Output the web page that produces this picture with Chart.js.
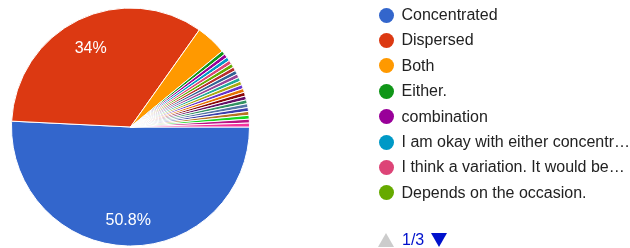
<!DOCTYPE html>
<html><head><meta charset="utf-8">
<script src="https://cdn.jsdelivr.net/npm/chart.js@4/dist/chart.umd.min.js"></script>
<style>
html,body{margin:0;padding:0;background:#fff;width:630px;height:248px;overflow:hidden;font-family:"Liberation Sans",Arial,sans-serif;}
#wrap{position:relative;width:630px;height:248px;overflow:hidden;}
#c{position:absolute;left:0;top:0;}
#legend{position:absolute;left:379px;top:0;width:251px;height:248px;}
.item{position:absolute;left:0;height:20px;width:251px;}
.dot{position:absolute;left:0;top:2.5px;width:15px;height:15px;border-radius:50%;}
.txt{position:absolute;left:22.5px;top:0;white-space:nowrap;font-size:16px;color:#222;line-height:20px;}
#pager{position:absolute;left:0;top:230px;height:20px;width:120px;}
#pager svg{position:absolute;top:3px;}
#pageTxt{position:absolute;left:23px;top:0;font-size:16px;line-height:20px;color:#0011cc;}
</style>
</head><body>
<div id="wrap">
<canvas id="c" width="630" height="248"></canvas>
<div id="legend"></div>
</div>
<script>
const categories = [
  "Concentrated", "Dispersed", "Both", "Either.", "combination",
  "I am okay with either concentr…", "I think a variation. It would be…", "Depends on the occasion.",
  "Response 9", "Response 10", "Response 11", "Response 12", "Response 13", "Response 14",
  "Response 15", "Response 16", "Response 17", "Response 18", "Response 19", "Response 20",
  "Response 21", "Response 22", "Response 23", "Response 24"
];
const responses = [97, 65, 8, 1, 1, 1, 1, 1, 1, 1, 1, 1, 1, 1, 1, 1, 1, 1, 1, 1, 1, 1, 1, 1];
const palette = [
  "#3366cc", "#dc3912", "#ff9900", "#109618", "#990099", "#0099c6", "#dd4477", "#66aa00",
  "#b82e2e", "#316395", "#994499", "#22aa99", "#aaaa11", "#6633cc", "#e67300", "#8b0707",
  "#651067", "#329262", "#5574a6", "#3b3eac", "#b77322", "#16d620", "#b91383", "#f4359e"
];
const legendPage = 1;
const legendPages = 3;
const perPage = 8;

const total = responses.reduce((a, b) => a + b, 0);

const pctLabels = {
  id: 'pctLabels',
  afterDatasetsDraw(chart) {
    const ctx = chart.ctx;
    const meta = chart.getDatasetMeta(0);
    ctx.save();
    ctx.font = '16px "Liberation Sans", Arial, sans-serif';
    ctx.fillStyle = '#ffffff';
    ctx.textAlign = 'center';
    ctx.textBaseline = 'middle';
    meta.data.forEach((arc, i) => {
      const p = responses[i] / total * 100;
      if (p < 5) return;
      const mid = (arc.startAngle + arc.endAngle) / 2;
      const r = arc.outerRadius * 0.765;
      const x = arc.x + Math.cos(mid) * r;
      const y = arc.y + Math.sin(mid) * r + 3;
      ctx.fillText((Math.round(p * 10) / 10) + '%', x, y);
    });
    ctx.restore();
  }
};

const chart = new Chart(document.getElementById('c'), {
  type: 'pie',
  data: {
    labels: categories,
    datasets: [{
      data: responses,
      backgroundColor: palette,
      borderColor: '#ffffff',
      borderWidth: 1
    }]
  },
  options: {
    responsive: false,
    devicePixelRatio: 1,
    animation: false,
    rotation: 90,
    layout: { padding: { left: 11, top: 7, right: 380, bottom: 1 } },
    plugins: { legend: { display: false }, tooltip: { enabled: false } }
  },
  plugins: [pctLabels]
});

// HTML legend built from chart data (first page)
const legend = document.getElementById('legend');
const start = (legendPage - 1) * perPage;
chart.data.labels.slice(start, start + perPage).forEach((lab, k) => {
  const i = start + k;
  const item = document.createElement('div');
  item.className = 'item';
  item.style.top = (15 + k * 25.4 - 10) + 'px';
  const dot = document.createElement('div');
  dot.className = 'dot';
  dot.style.background = chart.data.datasets[0].backgroundColor[i];
  const txt = document.createElement('div');
  txt.className = 'txt';
  txt.textContent = lab;
  item.appendChild(dot); item.appendChild(txt);
  legend.appendChild(item);
});
const pager = document.createElement('div');
pager.id = 'pager';
pager.innerHTML =
  '<svg width="16" height="14" style="left:-1px"><polygon points="8,0 16,14 0,14" fill="#cccccc"/></svg>' +
  '<span id="pageTxt">' + legendPage + '/' + legendPages + '</span>' +
  '<svg width="16" height="14" style="left:52px"><polygon points="0,0 16,0 8,14" fill="#0011cc"/></svg>';
legend.appendChild(pager);
</script>
</body></html>
